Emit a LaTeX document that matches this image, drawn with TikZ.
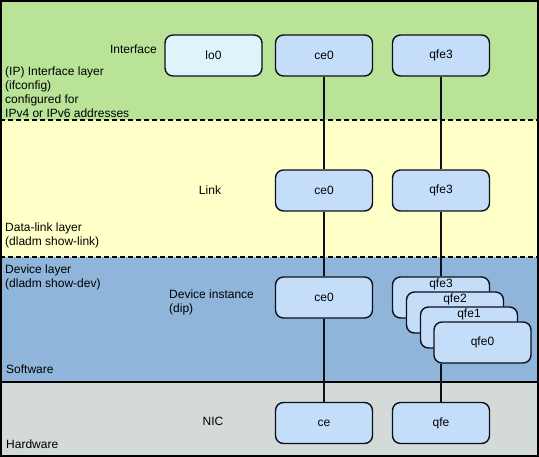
\documentclass[tikz,border=0pt]{standalone}
\usepackage{fontspec}
\setmainfont{Liberation Sans}
\begin{document}
\begin{tikzpicture}[x=1pt,y=-1pt,
  lbl/.style={inner sep=0pt,font=\fontsize{12}{14}\selectfont,align=left},
  boxed/.style={draw=boxline,line width=1.4pt,fill=boxblue,rounded corners=8pt,
    minimum width=97pt,minimum height=41pt,inner sep=0pt,font=\fontsize{12}{14}\selectfont},
  boxtext/.style={inner sep=0pt,font=\fontsize{12}{14}\selectfont},
  wire/.style={line width=1.2pt,draw=boxline},
  sep/.style={line width=1.2pt,dash pattern=on 5pt off 3pt}]
\definecolor{bandgreen}{RGB}{185,228,152}
\definecolor{bandyellow}{RGB}{255,255,200}
\definecolor{bandblue}{RGB}{143,181,219}
\definecolor{bandgray}{RGB}{211,218,215}
\definecolor{boxblue}{RGB}{196,222,250}
\definecolor{boxcyan}{RGB}{220,244,250}
\definecolor{boxline}{RGB}{15,15,25}
\useasboundingbox (0,0) rectangle (539,457);
% bands
\fill[bandgreen] (0,0) rectangle (539,120);
\fill[bandyellow] (0,120) rectangle (539,257);
\fill[bandblue] (0,257) rectangle (539,382);
\fill[bandgray] (0,382) rectangle (539,457);
\draw[sep] (0,120) -- (539,120);
\draw[sep] (0,257) -- (539,257);
\draw[line width=1.2pt] (0,382) -- (539,382);
\draw[line width=1.6pt] (0.8,0.8) rectangle (538.2,456.2);
% labels
\node[lbl,anchor=east] (linterface) at (157,49) {Interface};
\node[lbl,anchor=west] (lip) at (5,92) {(IP) Interface layer\\(ifconfig)\\configured for\\IPv4 or IPv6 addresses};
\node[lbl] (llink) at (210,190) {Link};
\node[lbl,anchor=west] (ldatalink) at (5,235) {Data-link layer\\(dladm show-link)};
\node[lbl,anchor=west] (ldevice) at (5,277.5) {Device layer\\(dladm show-dev)};
\node[lbl,anchor=west] (linstance) at (169,302) {Device instance\\(dip)};
\node[lbl,anchor=west] (lsoftware) at (6,369) {Software};
\node[lbl] (lnic) at (213,421) {NIC};
\node[lbl,anchor=west] (lhardware) at (6,444) {Hardware};
% interface row
\node[boxed,fill=boxcyan] (lo0) at (213.5,55.5) {lo0};
\node[boxed] (ceip) at (324,55.5) {ce0};
\node[boxed] (qfeip) at (441,55.5) {qfe3};
% link row
\node[boxed] (celink) at (324,190.5) {ce0};
\node[boxed] (qfelink) at (441,190.5) {qfe3};
% device row
\node[boxed] (cedev) at (324,297.5) {ce0};
\node[boxed] (qfedevc) at (441,297.5) {};
\node[boxtext] (tqfe3) at ([yshift=-8pt]qfedevc.north) {qfe3};
\node[boxed] (qfedevb) at (455,312.5) {};
\node[boxtext] (tqfe2) at ([yshift=-8.5pt]qfedevb.north) {qfe2};
\node[boxed] (qfedeva) at (469,327.5) {};
\node[boxtext] (tqfe1) at ([yshift=-8pt]qfedeva.north) {qfe1};
\node[boxed] (qfedev0) at (482.5,342.5) {qfe0};
% NIC row
\node[boxed] (cenic) at (324,423) {ce};
\node[boxed] (qfenic) at (441,423) {qfe};
% connectors
\draw[wire] (ceip.south) -- (celink.north);
\draw[wire] (celink.south) -- (cedev.north);
\draw[wire] (cedev.south) -- (cenic.north);
\draw[wire] (qfeip.south) -- (qfelink.north);
\draw[wire] (qfelink.south) -- (qfelink.south |- qfedevc.north);
\draw[wire] (qfenic.north |- qfedev0.south) -- (qfenic.north);
\end{tikzpicture}
\end{document}
